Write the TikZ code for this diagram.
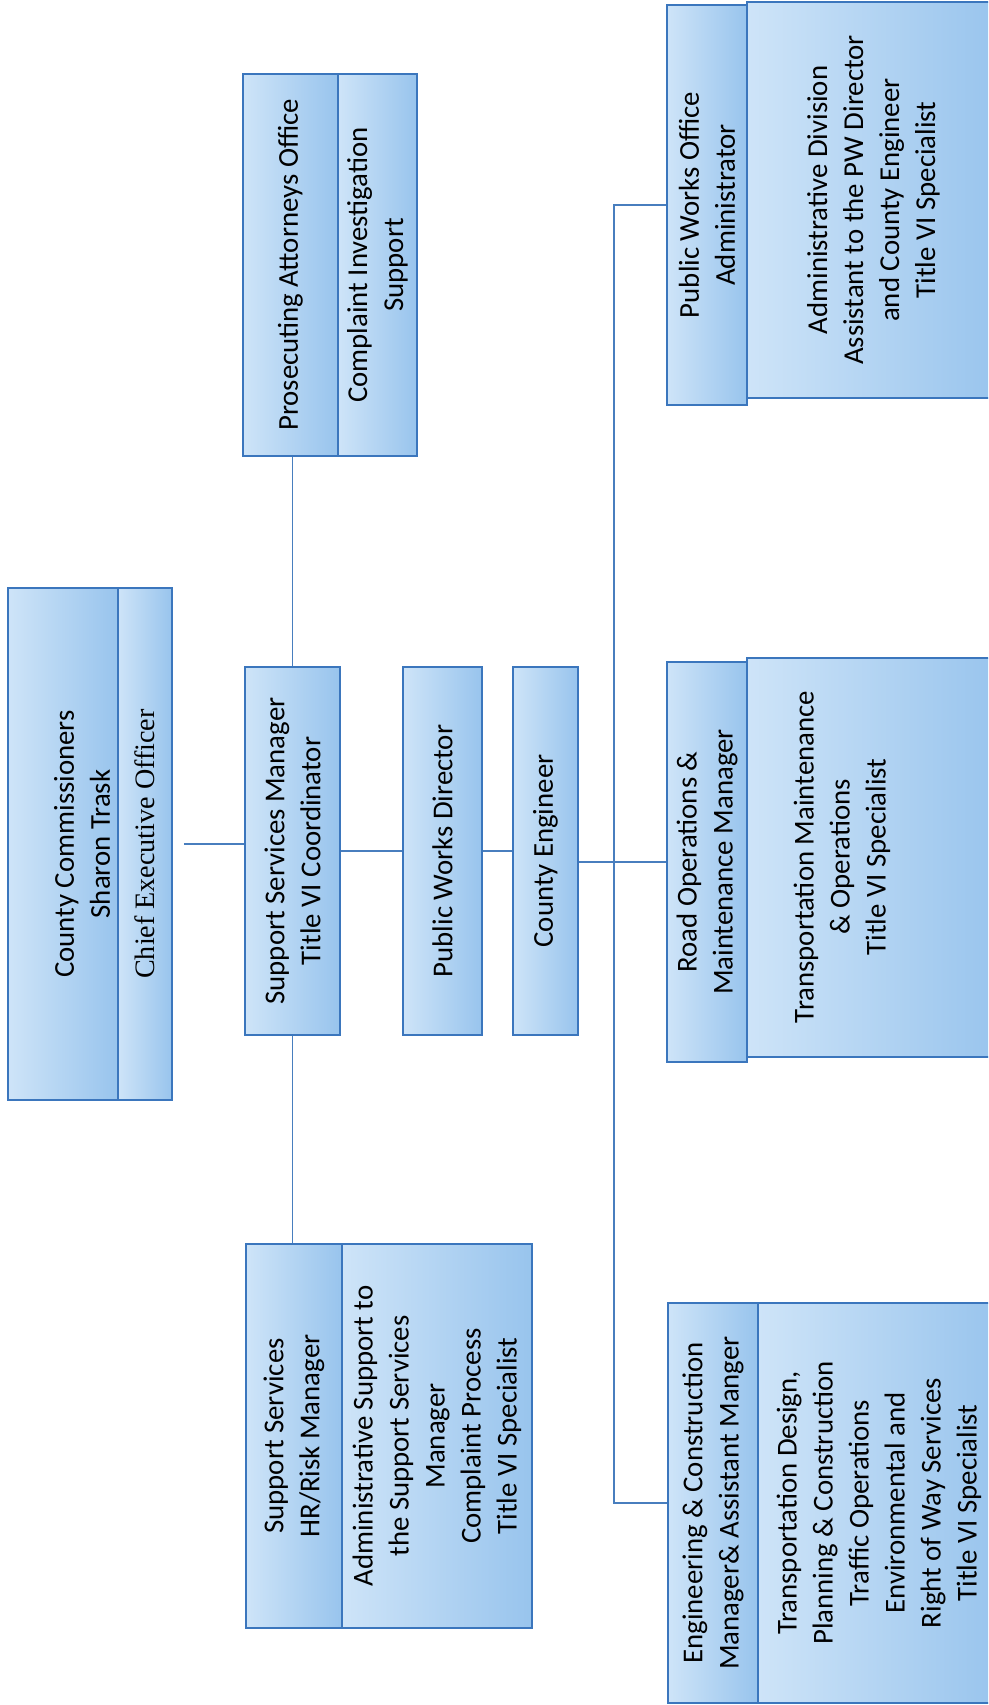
\documentclass[tikz,border=0pt]{standalone}
\usepackage{fontspec}
\setmainfont{Carlito}
\newfontfamily\ceofont{Liberation Serif}
\definecolor{boxline}{RGB}{59,118,189}
\definecolor{boxlight}{RGB}{206,228,248}
\definecolor{boxdark}{RGB}{152,196,237}
\definecolor{wireblue}{RGB}{72,126,190}

\begin{document}
\begin{tikzpicture}[x=0.02cm, y=-0.02cm, every node/.style={align=center},
  orgbox/.style 2 args={draw=boxline, line width=1.1pt, left color=boxlight,
    right color=boxdark, rotate=90, inner sep=0pt,
    minimum width=#2*0.02cm, minimum height=#1*0.02cm,
    font=\fontsize{16.4}{20.5}\selectfont},
  orgtext/.style={rotate=90, inner sep=0pt, font=\fontsize{16.4}{20.5}\selectfont},
  wire/.style={draw=wireblue, line width=1.1pt}]

\useasboundingbox (0,0) rectangle (988,1705);
\clip (0,0) rectangle (988,1705);

  % County Commissioners (left)
  \node[orgbox={110}{512}] (cch) at (63,844) {};
  \node[orgtext] (cct) at (82,844) {County Commissioners\\Sharon Trask};
  \node[orgbox={54}{512}, font=\ceofont\fontsize{16}{20.5}\selectfont] (ccb) at (145,844)
    {Chief Executive Officer};

  % Prosecuting Attorneys (top)
  \node[orgbox={95}{382}] (paoh) at (290.5,265) {Prosecuting Attorneys Office};
  \node[orgbox={79}{382}] (paob) at (377.5,265) {Complaint Investigation\\Support};

  % middle row
  \node[orgbox={95}{368}] (ssm) at (292.5,851) {Support Services Manager\\Title VI Coordinator};
  \node[orgbox={79}{368}] (pwd) at (442.5,851) {Public Works Director};
  \node[orgbox={65}{368}] (ce) at (545.5,851) {County Engineer};

  % Support Services HR (bottom)
  \node[orgbox={96}{384}] (hrh) at (294,1436) {Support Services\\HR/Risk Manager};
  \node[orgbox={190}{384}] (hrb) at (437,1436)
    {Administrative Support to\\the Support Services\\Manager\\Complaint Process\\Title VI Specialist};

  % Public Works divisions (right)
  \node[orgbox={253}{396}] (pwoab) at (873.5,200)
    {Administrative Division\\Assistant to the PW Director\\and County Engineer\\Title VI Specialist};
  \node[orgbox={80}{400}] (pwoah) at (707,205) {Public Works Office\\Administrator};

  \node[orgbox={253}{399}] (romb) at (873.5,857.5) {};
  \node[orgtext] (romt) at (842,857)
    {Transportation Maintenance\\\& Operations\\Title VI Specialist};
  \node[orgbox={80}{400}] (romh) at (707,862) {Road Operations \&\\Maintenance Manager};

  \node[orgbox={242}{400}] (ecb) at (879,1503)
    {Transportation Design,\\Planning \& Construction\\Traffic Operations\\Environmental and\\Right of Way Services\\Title VI Specialist};
  \node[orgbox={90}{400}] (ech) at (713,1503) {Engineering \& Construction\\Manager\& Assistant Manger};

  % connectors
  \coordinate (trunk) at (614,851);
  \draw[wire, shorten <=0.22cm] (ccb.south) -- (ccb.south -| ssm.north);
  \draw[wire] (ssm.east) -- (ssm.east |- paoh.west);
  \draw[wire] (ssm.west) -- (ssm.west |- hrh.east);
  \draw[wire] (ssm.south) -- (pwd.north);
  \draw[wire] (pwd.south) -- (ce.north);
  \draw[wire] (romh.north) -- (romh.north -| ce.south);
  \draw[wire] (pwoah.north) -| (trunk) |- (ech.north);

\end{tikzpicture}
\end{document}
